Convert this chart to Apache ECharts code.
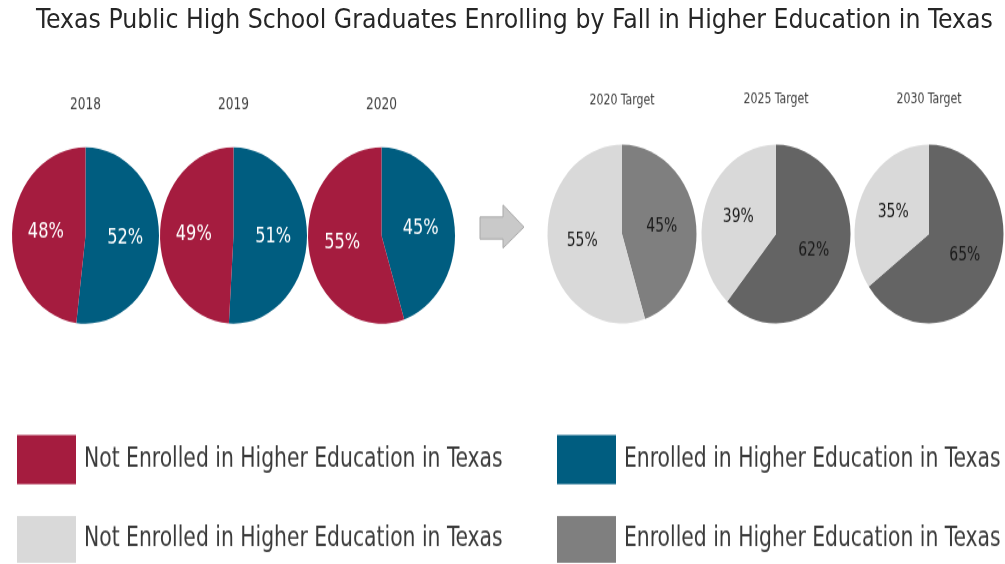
<!DOCTYPE html>
<html>
<head>
<meta charset="utf-8">
<script src="https://cdn.jsdelivr.net/npm/echarts@6/dist/echarts.min.js"></script>
<style>
  html, body { margin: 0; padding: 0; background: #ffffff; }
  #wrap { position: relative; width: 1005px; height: 564px; overflow: hidden; background: #fff; }
  #titleChart { position: absolute; left: 0; top: 0; width: 1005px; height: 60px; }
  #bodyChart { position: absolute; left: 0; top: 0; width: 1005px; height: 470px; transform: scaleY(1.2); transform-origin: 0 0; }
</style>
</head>
<body>
<div id="wrap">
  <div id="titleChart"></div>
  <div id="bodyChart"></div>
</div>
<script>
// ---- data ----
const chartTitle = 'Texas Public High School Graduates Enrolling by Fall in Higher Education in Texas';
const years = ['2018', '2019', '2020'];
const enrolled = [52, 51, 45];
const notEnrolled = [48, 49, 55];
const targetLabels = ['2020 Target', '2025 Target', '2030 Target'];
const targetEnrolled = [45, 62, 65];
const targetNotEnrolled = [55, 39, 35];
const nameNot = 'Not Enrolled in Higher Education in Texas';
const nameEnr = 'Enrolled in Higher Education in Texas';
const targetSuffix = ' (target)';

// ---- style ----
const FONT = "'DejaVu Sans Condensed', 'Liberation Sans', Arial, sans-serif";
const RED = '#A51C3F';
const BLUE = '#005D80';
const LIGHT = '#D9D9D9';
const DARK_2020 = '#7F7F7F';
const DARK = '#646464';
const leftCx = [85.5, 233.5, 381.5];
const rightCx = [622, 776, 929];
const leftCy = 196.25, rightCy = 195;
const leftR = 73.5, rightR = 74.5;

const titleChart = echarts.init(document.getElementById('titleChart'), null, { renderer: 'canvas' });
titleChart.setOption({
  animation: false,
  title: {
    text: chartTitle,
    left: 31,
    top: 3,
    textStyle: { fontFamily: FONT, fontSize: 26.3, fontWeight: 'normal', color: '#262626' }
  }
});

const series = [];
years.forEach((y, i) => {
  series.push({
    type: 'pie',
    center: [leftCx[i], leftCy],
    radius: leftR,
    startAngle: 90,
    clockwise: true,
    silent: true,
    itemStyle: { borderWidth: 0 },
    label: { show: true, position: 'inside', formatter: '{c}%', color: '#ffffff', fontSize: 18, fontFamily: FONT },
    labelLine: { show: false },
    data: [
      { name: nameEnr, value: enrolled[i], itemStyle: { color: BLUE } },
      { name: nameNot, value: notEnrolled[i], itemStyle: { color: RED } }
    ]
  });
});
targetLabels.forEach((t, i) => {
  series.push({
    type: 'pie',
    center: [rightCx[i], rightCy],
    radius: rightR,
    startAngle: 90,
    clockwise: true,
    silent: true,
    itemStyle: { borderWidth: 0 },
    label: { show: true, position: 'inside', formatter: '{c}%', color: '#1a1a1a', fontSize: 15.5, fontFamily: FONT },
    labelLine: { show: false },
    data: [
      { name: nameEnr + targetSuffix, value: targetEnrolled[i], itemStyle: { color: i === 0 ? DARK_2020 : DARK } },
      { name: nameNot + targetSuffix, value: targetNotEnrolled[i], itemStyle: { color: LIGHT } }
    ]
  });
});

function legendAt(name, left, top, h) {
  return {
    data: [name],
    left: left,
    top: top,
    padding: 0,
    orient: 'horizontal',
    icon: 'rect',
    itemWidth: 59,
    itemHeight: h,
    selectedMode: false,
    formatter: n => n.replace(targetSuffix, ''),
    textStyle: { fontFamily: FONT, fontSize: 22.6, color: '#3a3a3a', padding: [0, 0, 0, 3] }
  };
}

const yearText = [];
years.forEach((y, i) => {
  yearText.push({ type: 'text', x: leftCx[i], y: 87.5, style: { text: y, fill: '#404040', font: '13.5px ' + FONT, textAlign: 'center', textVerticalAlign: 'middle' } });
});
const targetY = [84.2, 82.5, 83.3];
targetLabels.forEach((t, i) => {
  yearText.push({ type: 'text', x: rightCx[i], y: targetY[i], style: { text: t, fill: '#404040', font: '12.2px ' + FONT, textAlign: 'center', textVerticalAlign: 'middle' } });
});

const bodyChart = echarts.init(document.getElementById('bodyChart'), null, { renderer: 'canvas' });
bodyChart.setOption({
  animation: false,
  legend: [
    legendAt(nameNot, 17, 362.5, 41),
    legendAt(nameEnr, 557, 362.5, 41),
    legendAt(nameNot + targetSuffix, 17, 430, 39),
    legendAt(nameEnr + targetSuffix, 557, 430, 39)
  ],
  graphic: yearText.concat([
    {
      type: 'polygon',
      shape: { points: [[480, 180.8], [503, 180.8], [503, 170.8], [524, 189.2], [503, 206.7], [503, 199.2], [480, 199.2]] },
      style: { fill: '#C9C9C9', stroke: '#A9A9A9', lineWidth: 1 }
    }
  ]),
  series: series
});
</script>
</body>
</html>
